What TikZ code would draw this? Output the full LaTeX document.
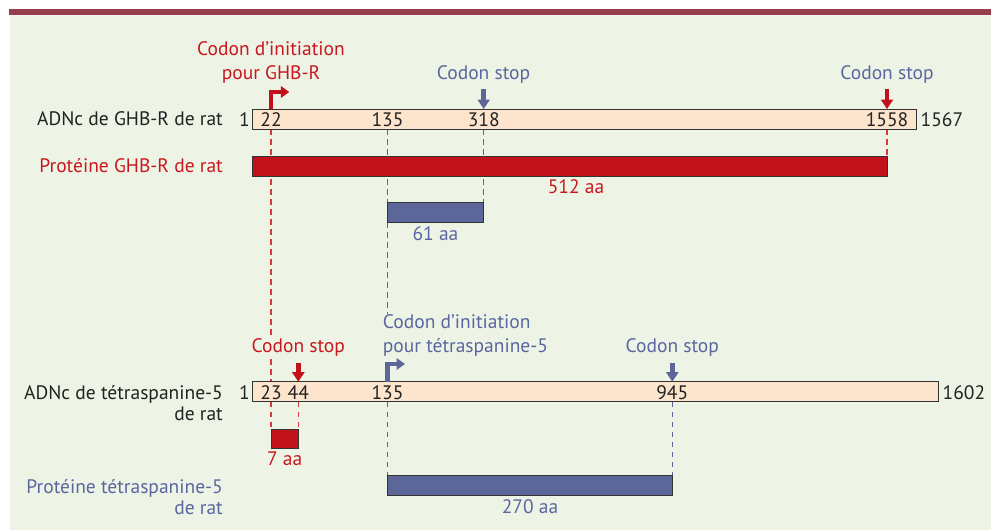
\documentclass[tikz,border=0pt]{standalone}
\usepackage{fontspec}
\setmainfont{PT Sans}
\usetikzlibrary{arrows.meta}

\definecolor{panelbg}{HTML}{EEF4E5}
\definecolor{topband}{HTML}{953F4C}
\definecolor{peach}{HTML}{FDE4CC}
\definecolor{protred}{HTML}{C1121B}
\definecolor{protblue}{HTML}{5D6699}
\definecolor{edge}{HTML}{333333}
\definecolor{txtred}{HTML}{C8171F}
\definecolor{txtblue}{HTML}{5A66A1}
\definecolor{txtdark}{HTML}{222222}
\definecolor{dashred}{HTML}{D9363E}

\pgfdeclarelayer{panel}
\pgfdeclarelayer{guides}
\pgfsetlayers{panel,guides,main}

\tikzset{
  seg/.style={draw=edge, line width=0.9pt, inner sep=0pt, outer sep=0pt,
    anchor=north west, rectangle},
  lab/.style={inner sep=0pt, font=\fontsize{19.5}{23}\selectfont},
  guide/.style={line width=1.2pt, dash pattern=on 5.5pt off 4.5pt},
  stoparrow/.style={line width=4.5pt, -{Triangle[length=9.5pt,width=12pt]}},
  startarrow/.style={line width=4.3pt, -{Triangle[length=8.5pt,width=11.5pt]}},
}

\begin{document}
\begin{tikzpicture}[x=1pt,y=-1pt]
\useasboundingbox (0,0) rectangle (991,530);

% positions along the sequences
\coordinate (p22) at (271,0);
\coordinate (p44) at (298.3,0);
\coordinate (p135) at (387.5,0);
\coordinate (p318) at (483.7,0);
\coordinate (p945) at (672.3,0);
\coordinate (p1558) at (887,0);

% sequence bars and protein blocks
\node[seg, fill=peach, minimum width=664pt, minimum height=20pt] (cdna1) at (252,109) {};
\node[seg, fill=protred, minimum width=635pt, minimum height=20pt] (prot1) at (252,156) {};
\node[seg, fill=protblue, minimum width=96.2pt, minimum height=19.6pt] (box61) at (387.5,202.7) {};
\node[seg, fill=peach, minimum width=686.3pt, minimum height=20pt] (cdna2) at (252,381.7) {};
\node[seg, fill=protred, minimum width=27.5pt, minimum height=19.7pt] (box7) at (271,429) {};
\node[seg, fill=protblue, minimum width=284.8pt, minimum height=20pt] (box270) at (387.5,475.7) {};

% texts on the left
\node[lab, anchor=base east, text=txtdark] (nameA) at (223,125) {ADNc de GHB-R de rat};
\node[lab, anchor=base east, text=txtred] (protA) at (223,172) {Protéine GHB-R de rat};
\node[lab, anchor=base east, text=txtdark] (nameB1) at (223,399) {ADNc de tétraspanine-5};
\node[lab, anchor=base east, text=txtdark] (nameB2) at (223,420) {de rat};
\node[lab, anchor=base east, text=txtblue] (protB1) at (223,493) {Protéine tétraspanine-5};
\node[lab, anchor=base east, text=txtblue] (protB2) at (223,514) {de rat};

% positions printed in and beside the bars
\node[lab, anchor=base, text=txtdark] (a1) at (244.5,126) {1};
\node[lab, anchor=base, text=txtdark] (a22) at (p22 |- 0,126) {22};
\node[lab, anchor=base, text=txtdark] (a135) at (p135 |- 0,126) {135};
\node[lab, anchor=base, text=txtdark] (a318) at (p318 |- 0,126) {318};
\node[lab, anchor=base, text=txtdark] (a1558) at (p1558 |- 0,126) {1558};
\node[lab, anchor=base west, text=txtdark] (a1567) at (920.5,126) {1567};

\node[lab, anchor=base, text=txtdark] (b1) at (244.5,399) {1};
\node[lab, anchor=base, text=txtdark] (b23) at (p22 |- 0,399) {23};
\node[lab, anchor=base, text=txtdark] (b44) at (p44 |- 0,399) {44};
\node[lab, anchor=base, text=txtdark] (b135) at (p135 |- 0,399) {135};
\node[lab, anchor=base, text=txtdark] (b945) at (p945 |- 0,399) {945};
\node[lab, anchor=base west, text=txtdark] (b1602) at (942.5,399) {1602};

% protein lengths
\node[lab, anchor=base, text=txtred] (len512) at (576,193) {512 aa};
\node[lab, anchor=base, text=txtblue] (len61) at (435.5,240.7) {61 aa};
\node[lab, anchor=base, text=txtred] (len7) at (284.7,465.7) {7 aa};
\node[lab, anchor=base, text=txtblue] (len270) at (530,513.3) {270 aa};

% codon captions
\node[lab, anchor=base, text=txtred] (initA1) at (271,55) {Codon d’initiation};
\node[lab, anchor=base, text=txtred] (initA2) at (271,79) {pour GHB-R};
\node[lab, anchor=base, text=txtblue] (stopA1) at (483.5,79) {Codon stop};
\node[lab, anchor=base, text=txtblue] (stopA2) at (887,79) {Codon stop};
\node[lab, anchor=base west, text=txtblue] (initB1) at (382.7,328) {Codon d’initiation};
\node[lab, anchor=base west, text=txtblue] (initB2) at (382.7,352) {pour tétraspanine-5};
\node[lab, anchor=base, text=txtred, fill=panelbg, inner sep=2pt] (stopB1) at (298.3,352) {Codon stop};
\node[lab, anchor=base, text=txtblue] (stopB2) at (672.3,352) {Codon stop};

% start and stop markers
\draw[startarrow, protred] (cdna1.north -| p22) |- (289.3,92);
\draw[stoparrow, protblue] (p318 |- 0,89) -- (cdna1.north -| p318);
\draw[stoparrow, protred] (p1558 |- 0,89) -- (cdna1.north -| p1558);
\draw[startarrow, protblue] (cdna2.north -| p135) |- (405,364);
\draw[stoparrow, protred] (p44 |- 0,362.7) -- (cdna2.north -| p44);
\draw[stoparrow, protblue] (p945 |- 0,362.7) -- (cdna2.north -| p945);

% dashed guides behind the blocks
\begin{pgfonlayer}{guides}
  \draw[guide, dashred] (cdna1.south -| p22) -- (cdna2.north -| p22);
  \draw[guide, dashred] (cdna1.south -| p1558) -- (prot1.north -| p1558);
  \draw[guide, txtblue] (cdna1.south -| p135) -- (box61.north -| p135);
  \draw[guide, txtblue] (cdna1.south -| p318) -- (box61.north -| p318);
  \draw[guide, txtblue] (box61.south -| p135) -- (initB1.north -| p135);
  \draw[guide, dashred] (cdna2.south -| p22) -- (box7.north -| p22);
  \draw[guide, dashred] (cdna2.south -| p44) -- (box7.north -| p44);
  \draw[guide, txtblue] (cdna2.south -| p135) -- (box270.north -| p135);
  \draw[guide, txtblue] (cdna2.south -| p945) -- (box270.north -| p945);
\end{pgfonlayer}

% panel and top band
\begin{pgfonlayer}{panel}
  \fill[panelbg] (10,15) rectangle (991,530);
  \fill[topband] (9,9) rectangle (991,15);
\end{pgfonlayer}
\end{tikzpicture}
\end{document}
